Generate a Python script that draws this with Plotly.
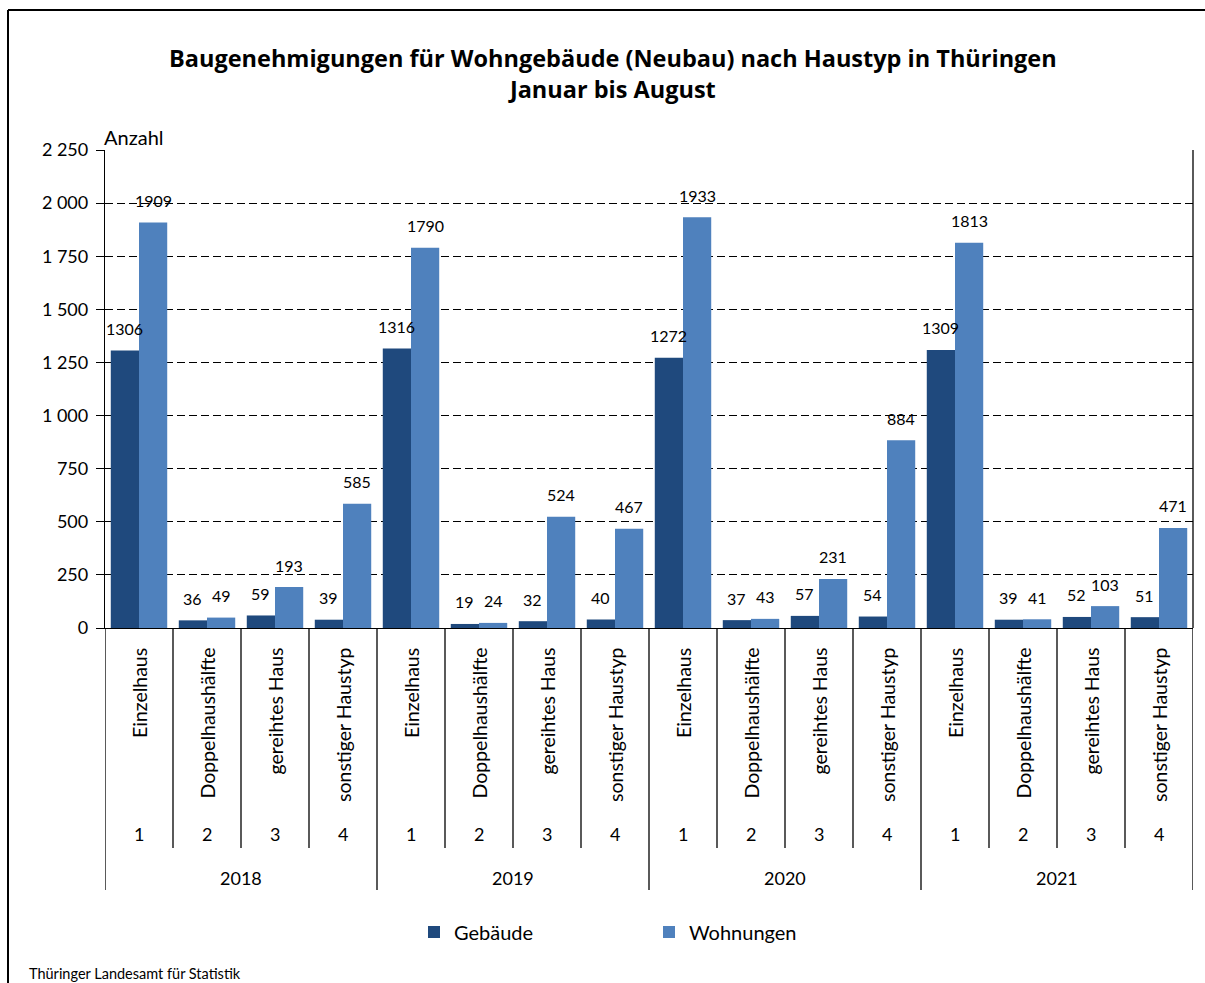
import plotly.graph_objects as go

years = ["2018", "2019", "2020", "2021"]
types = ["Einzelhaus", "Doppelhaushälfte", "gereihtes Haus", "sonstiger Haustyp"]
type_nums = ["1", "2", "3", "4"]
gebaeude = [1306, 36, 59, 39, 1316, 19, 32, 40, 1272, 37, 57, 54, 1309, 39, 52, 51]
wohnungen = [1909, 49, 193, 585, 1790, 24, 524, 467, 1933, 43, 231, 884, 1813, 41, 103, 471]

W, H = 1205, 983
L, R, T, B = 105, 1193, 150, 628
FONT = "Lato"
C_DARK = "#1F497D"
C_LIGHT = "#4F81BD"

def py(p):
    return (B - p) / (B - T)

def px(p):
    return (p - L) / (R - L)

n = len(gebaeude)
xs = list(range(n))

fig = go.Figure()
fig.add_trace(go.Bar(x=xs, y=gebaeude, name="Gebäude", marker_color=C_DARK, marker_line_width=0))
fig.add_trace(go.Bar(x=xs, y=wohnungen, name="Wohnungen", marker_color=C_LIGHT, marker_line_width=0))

bargap = 0.17
half = (1 - bargap) / 4
ann = []
for i in xs:
    ann.append(dict(x=i - half, y=gebaeude[i], xref="x", yref="y", text=str(gebaeude[i]),
                    showarrow=False, yanchor="middle", yshift=22, font=dict(size=16)))
    ann.append(dict(x=i + half, y=wohnungen[i], xref="x", yref="y", text=str(wohnungen[i]),
                    showarrow=False, yanchor="middle", yshift=22, font=dict(size=16)))

# category labels
for yi, yr in enumerate(years):
    for ti, t in enumerate(types):
        i = yi * 4 + ti
        ann.append(dict(x=i, y=py(646), xref="x", yref="paper", text=t, textangle=-90,
                        showarrow=False, xanchor="center", yanchor="top", font=dict(size=19.5)))
        ann.append(dict(x=i, y=py(834), xref="x", yref="paper", text=type_nums[ti],
                        showarrow=False, xanchor="center", yanchor="middle", font=dict(size=18)))
    ann.append(dict(x=yi * 4 + 1.5, y=py(878), xref="x", yref="paper", text=yr,
                    showarrow=False, xanchor="center", yanchor="middle", font=dict(size=18)))

# title, unit, source
ann.append(dict(x=px(613), y=py(74), xref="paper", yref="paper",
                text="<b>Baugenehmigungen für Wohngebäude (Neubau) nach Haustyp in Thüringen<br>Januar bis August</b>",
                showarrow=False, xanchor="center", yanchor="middle",
                font=dict(size=23.5, family="Open Sans")))
ann.append(dict(x=px(102), y=py(137), xref="paper", yref="paper", text="Anzahl",
                showarrow=False, xanchor="left", yanchor="middle", font=dict(size=20)))
ann.append(dict(x=px(27), y=py(974), xref="paper", yref="paper", text="Thüringer Landesamt für Statistik",
                showarrow=False, xanchor="left", yanchor="middle", font=dict(size=14.5)))

shapes = []
for k in range(n + 1):
    xline = k - 0.5
    bottom = 890 if k % 4 == 0 else 848
    shapes.append(dict(type="line", xref="x", yref="paper", x0=xline, x1=xline,
                       y0=0, y1=py(bottom), line=dict(color="black", width=1.3)))
# right plot border
shapes.append(dict(type="line", xref="paper", yref="paper", x0=1, x1=1, y0=1, y1=0,
                   line=dict(color="black", width=1.3)))
# outer frame (top and left visible)
shapes.append(dict(type="line", xref="paper", yref="paper", x0=px(8), x1=px(1215), y0=py(10), y1=py(10),
                   line=dict(color="black", width=2)))
shapes.append(dict(type="line", xref="paper", yref="paper", x0=px(8), x1=px(8), y0=py(10), y1=py(995),
                   line=dict(color="black", width=2)))

fig.update_layout(
    width=W, height=H,
    margin=dict(l=L, r=W - R, t=T, b=H - B),
    paper_bgcolor="white", plot_bgcolor="white",
    font=dict(family=FONT, color="black", size=16),
    barmode="group", bargap=bargap, bargroupgap=0,
    separators=", ",
    showlegend=True,
    legend=dict(orientation="h", x=0.5, xanchor="center", y=py(932), yanchor="middle",
                font=dict(size=20), entrywidth=190, itemwidth=30, traceorder="normal"),
    annotations=ann, shapes=shapes,
    xaxis=dict(range=[-0.5, n - 0.5], showticklabels=False, ticks="", showgrid=False,
               showline=True, linecolor="black", linewidth=1.3, zeroline=False, fixedrange=True),
    yaxis=dict(range=[0, 2250], dtick=250, tick0=0, tickformat=",d", ticks="outside", ticklen=8,
               tickcolor="black", tickwidth=1.3, showline=True, linecolor="black", linewidth=1.3,
               showgrid=True, gridcolor="black", griddash="8px,4px", gridwidth=1,
               zeroline=False, tickfont=dict(size=18), ticklabelstandoff=4),
)

fig.write_html("out.html", config={"displayModeBar": False},
               post_script="document.body.style.margin='0';document.body.style.overflow='hidden';")
